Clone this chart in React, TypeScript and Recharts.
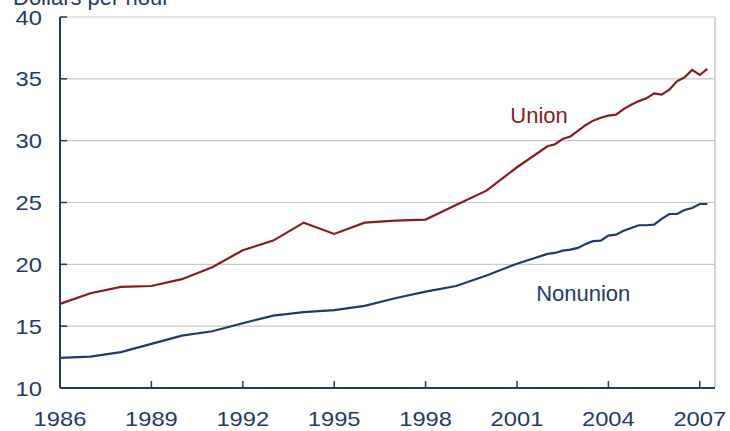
import { CartesianGrid, Line, LineChart, ReferenceDot, ReferenceLine, XAxis, YAxis } from "recharts"

// March of each year through 2001, quarterly from 2002
const PERIODS = [
  1986, 1987, 1988, 1989, 1990, 1991, 1992, 1993, 1994, 1995, 1996, 1997, 1998, 1999, 2000, 2001,
  2002, 2002.25, 2002.5, 2002.75, 2003, 2003.25, 2003.5, 2003.75, 2004, 2004.25, 2004.5, 2004.75,
  2005, 2005.25, 2005.5, 2005.75, 2006, 2006.25, 2006.5, 2006.75, 2007, 2007.25,
]

const UNION = [
  16.8, 17.66, 18.17, 18.25, 18.8, 19.77, 21.14, 21.92, 23.37, 22.46, 23.37, 23.53, 23.62, 24.8, 25.96, 27.85,
  29.55, 29.71, 30.14, 30.33, 30.8, 31.25, 31.62, 31.85, 32.02, 32.1, 32.55, 32.9,
  33.2, 33.42, 33.83, 33.72, 34.12, 34.8, 35.12, 35.72, 35.31, 35.8,
]

const NONUNION = [
  12.43, 12.54, 12.9, 13.57, 14.24, 14.59, 15.24, 15.85, 16.13, 16.29, 16.64, 17.26, 17.79, 18.25, 19.1, 20.05,
  20.84, 20.92, 21.11, 21.19, 21.33, 21.65, 21.87, 21.92, 22.32, 22.4, 22.72, 22.94,
  23.16, 23.16, 23.21, 23.67, 24.07, 24.07, 24.4, 24.56, 24.88, 24.88,
]

const YEAR_TICKS = [1986, 1989, 1992, 1995, 1998, 2001, 2004, 2007]
const WAGE_TICKS = [10, 15, 20, 25, 30, 35, 40]

const data = PERIODS.map((p, i) => ({ period: p, union: UNION[i], nonunion: NONUNION[i] }))

const NAVY = "#1f3a6b"
const RED = "#8b1a1f"
const GRID = "#c8c8c8"
const FONT = "'Liberation Sans', Arial, sans-serif"
const Y_GAP = 18
const X_GAP = 23
const MARK = 7

function WageTick(props: any) {
  const { x, y, payload } = props
  const axisX = x + Y_GAP
  return (
    <g>
      {payload.value !== WAGE_TICKS[0] && (
        <line x1={axisX} x2={axisX + MARK} y1={y} y2={y} stroke={NAVY} strokeWidth={1.5} />
      )}
      <text
        transform={`translate(${x},${y}) scale(1.13,1)`}
        textAnchor="end"
        dy="0.36em"
        fill={NAVY}
        fontSize={21}
        fontFamily={FONT}
      >
        {payload.value}
      </text>
    </g>
  )
}

function YearTick(props: any) {
  const { x, y, payload } = props
  const axisY = y - X_GAP
  return (
    <g>
      {payload.value !== YEAR_TICKS[0] && (
        <line x1={x} x2={x} y1={axisY} y2={axisY - MARK} stroke={NAVY} strokeWidth={1.5} />
      )}
      <text
        transform={`translate(${x},${y}) scale(1.13,1)`}
        textAnchor="middle"
        dy="0.71em"
        fill={NAVY}
        fontSize={21}
        fontFamily={FONT}
      >
        {payload.value}
      </text>
    </g>
  )
}

function SeriesLabel(text: string, color: string) {
  return (props: any) => {
    const { viewBox } = props
    return (
      <text x={viewBox.x} y={viewBox.y} fill={color} fontSize={22} fontFamily={FONT}>
        {text}
      </text>
    )
  }
}

export default function App() {
  return (
    <div style={{ position: "absolute", left: 0, top: 0, width: 730, height: 431, background: "#fff" }}>
      <svg width={730} height={20} style={{ position: "absolute", left: 0, top: 0 }}>
        <text x={13} y={5} fill={NAVY} fontSize={22} fontFamily={FONT}>
          Dollars per hour
        </text>
      </svg>
      <LineChart width={730} height={431} data={data} margin={{ top: 17, right: 15, bottom: 0, left: 0 }}>
        <CartesianGrid horizontal vertical={false} stroke={GRID} strokeWidth={1.2} />
        <XAxis
          dataKey="period"
          type="number"
          domain={[1986, 2007.5]}
          ticks={YEAR_TICKS}
          height={43}
          tickSize={0}
          tickMargin={X_GAP}
          tick={<YearTick />}
          axisLine={{ stroke: NAVY, strokeWidth: 2 }}
          interval={0}
        />
        <YAxis
          type="number"
          domain={[10, 40]}
          ticks={WAGE_TICKS}
          width={60}
          tickSize={0}
          tickMargin={Y_GAP}
          tick={<WageTick />}
          axisLine={{ stroke: NAVY, strokeWidth: 2 }}
          interval={0}
        />
        <ReferenceLine x={2007.5} stroke="#b8b8b8" strokeWidth={1.2} />
        <Line
          type="linear"
          dataKey="union"
          stroke={RED}
          strokeWidth={2.2}
          dot={false}
          isAnimationActive={false}
        />
        <Line
          type="linear"
          dataKey="nonunion"
          stroke={NAVY}
          strokeWidth={2.2}
          dot={false}
          isAnimationActive={false}
        />
        <ReferenceDot
          x={2000.78}
          y={31.39}
          r={0}
          fill="none"
          stroke="none"
          label={SeriesLabel("Union", RED)}
        />
        <ReferenceDot
          x={2001.63}
          y={17.03}
          r={0}
          fill="none"
          stroke="none"
          label={SeriesLabel("Nonunion", NAVY)}
        />
      </LineChart>
    </div>
  )
}
